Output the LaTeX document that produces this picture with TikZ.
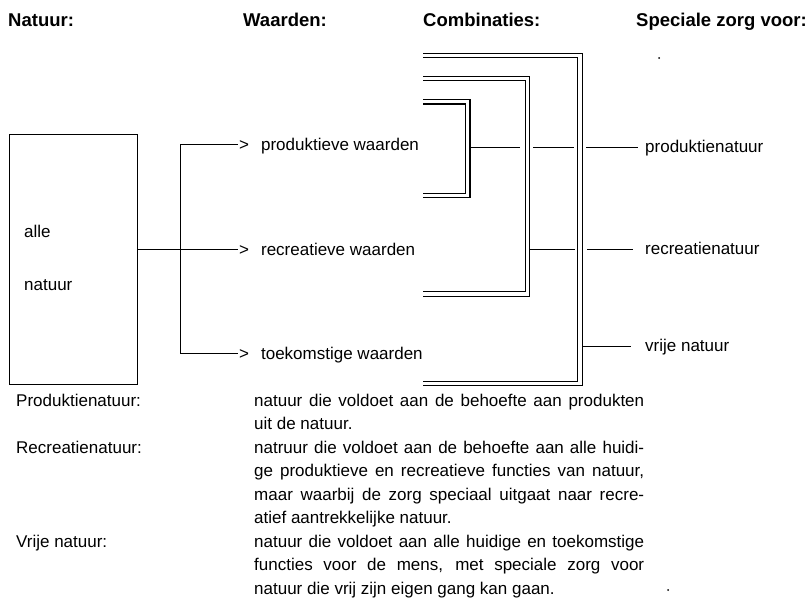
\documentclass[tikz,border=0pt]{standalone}
\usepackage{fontspec}
\setmainfont{Liberation Sans}
\newcommand\jline[1]{\hbox{\makebox[390pt][s]{#1}}}
\newcommand\rline[1]{\hbox{#1}}
\begin{document}
\begin{tikzpicture}[x=1pt,y=-1pt,
  txt/.style={font=\fontsize{17}{20}\selectfont, inner sep=0pt, anchor=base west},
  head/.style={font=\bfseries\fontsize{18.5}{22}\selectfont, inner sep=0pt, anchor=base west},
  defn/.style={font=\fontsize{17}{23.5}\selectfont, inner sep=0pt, anchor=base west},
  thinline/.style={line width=1pt},
  dblline/.style={line width=1.1pt, double, double distance=3.3pt},
  speck/.style={fill=black, inner sep=0pt, minimum size=2pt, circle}
]
\useasboundingbox (0,0) rectangle (812,605);

% headings
\node[head] (hN) at (8,26) {Natuur:};
\node[head] (hW) at (243,26) {Waarden:};
\node[head] (hC) at (423,26) {Combinaties:};
\node[head] (hS) at (636,26) {Speciale zorg voor:};

% nature box
\node[draw, thinline, minimum width=128pt, minimum height=250pt, inner sep=0pt, anchor=north west] (box) at (8.5,133.5) {};
\node[txt] (alle) at (24,237) {alle};
\node[txt] (nat) at (24,290) {natuur};

% values
\node[txt] (pw) at (239,150) {>\hspace{12pt}produktieve waarden};
\node[txt] (rw) at (239,255) {>\hspace{12pt}recreatieve waarden};
\node[txt] (tw) at (239,359) {>\hspace{12pt}toekomstige waarden};

\coordinate (split) at (180.5,249.5);
\draw[thinline] (box.east |- split) -- ([xshift=-1pt,yshift=5.5pt]rw.base west);
\draw[thinline] ([xshift=-1pt,yshift=5.5pt]pw.base west) -| (split) |- ([xshift=-1pt,yshift=5.5pt]tw.base west);

% combination brackets (double lines)
\coordinate (aT) at (423,101.8);
\coordinate (aB) at (423,195.3);
\coordinate (bT) at (423,78.3);
\coordinate (bB) at (423,294);
\coordinate (cT) at (423,55.3);
\coordinate (cB) at (423,383.7);
\draw[dblline] (aT) -- (467.8,101.8) -- (467.8,195.3) -- (aB);
\draw[dblline] (bT) -- (527.7,78.3) -- (527.7,294) -- (bB);
\draw[dblline] (cT) -- (580,55.3) -- (580,383.7) -- (cB);

% special care labels
\node[txt] (pn) at (645,152) {produktienatuur};
\node[txt] (rn) at (645,254) {recreatienatuur};
\node[txt] (vn) at (645,351) {vrije natuur};

% connectors to labels
\coordinate (p1) at (470.5,147.5);
\coordinate (p2) at (520,147.5);
\coordinate (p3) at (533,147.5);
\coordinate (p4) at (574,147.5);
\coordinate (p5) at (586,147.5);
\draw[thinline] (p1) -- (p2);
\draw[thinline] (p3) -- (p4);
\draw[thinline] (p5) -- ([xshift=-7pt]pn.base west |- p5);

\coordinate (r1) at (530,249.5);
\coordinate (r2) at (575,249.5);
\coordinate (r3) at (587,249.5);
\draw[thinline] (r1) -- (r2);
\draw[thinline] (r3) -- ([xshift=-12pt]rn.base west |- r3);

\coordinate (v1) at (582.5,346.5);
\draw[thinline] (v1) -- ([xshift=-14pt]vn.base west |- v1);

% specks
\node[speck] (s1) at (659,58) {};
\node[speck] (s2) at (668,590) {};

% definitions
\node[txt] (dl1) at (16,406) {Produktienatuur:};
\node[txt] (dl2) at (16,453) {Recreatienatuur:};
\node[txt] (dl3) at (16,547) {Vrije natuur:};

\node[defn] (d1) at (254,406) {\vtop{\jline{natuur die voldoet aan de behoefte aan produkten}\rline{uit de natuur.}}};
\node[defn] (d2) at (254,453) {\vtop{\jline{natruur die voldoet aan de behoefte aan alle huidi-}\jline{ge produktieve en recreatieve functies van natuur,}\jline{maar waarbij de zorg speciaal uitgaat naar recre-}\rline{atief aantrekkelijke natuur.}}};
\node[defn] (d3) at (254,547) {\vtop{\jline{natuur die voldoet aan alle huidige en toekomstige}\jline{functies voor de mens, met speciale zorg voor}\rline{natuur die vrij zijn eigen gang kan gaan.}}};
\end{tikzpicture}
\end{document}
